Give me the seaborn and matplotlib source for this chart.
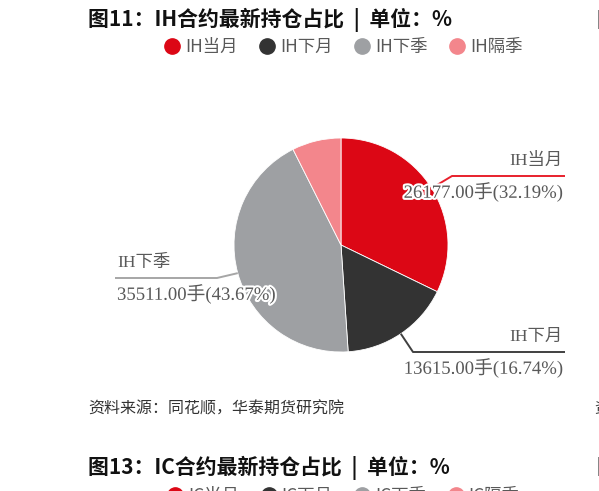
import numpy as np
import seaborn as sns
import matplotlib.pyplot as plt
import matplotlib.patheffects as pe
from matplotlib.lines import Line2D

# data
labels = ['IH当月', 'IH下月', 'IH下季', 'IH隔季']
lots = [26177.00, 13615.00, 35511.00, 6017.00]
pcts = [32.19, 16.74, 43.67, 7.40]
ic_labels = ['IC当月', 'IC下月', 'IC下季', 'IC隔季']
colors = ['#DC0715', '#333333', '#9EA0A3', '#F3868C']

sns.set_theme(style='white')
plt.rcParams['font.family'] = ['Noto Sans CJK SC', 'DejaVu Sans']

W, H = 599, 491
fig = plt.figure(figsize=(W / 100, H / 100), dpi=100)
ax = fig.add_axes([0, 0, 1, 1])

# pie, center/radius in pixel units (y measured from bottom)
cx, cy, r = 341, H - 245, 107
wedges, _ = ax.pie(lots, colors=colors, startangle=90, counterclock=False,
                   center=(cx, cy), radius=r,
                   wedgeprops=dict(edgecolor='white', linewidth=0.6))
ax.set_xlim(0, W)
ax.set_ylim(0, H)
ax.set_aspect('equal')
ax.axis('off')

txt_col = '#595959'
serif = ['Liberation Serif', 'Noto Sans CJK SC']
halo = [pe.withStroke(linewidth=3, foreground='white')]

# leader lines and labels: (wedge index, elbow x, line y, end x, line colour, side)
callouts = [
    (0, 452, 176, 565, '#E8202C', 'right'),
    (1, 413, 352, 565, '#404040', 'right'),
    (2, 217, 278, 115, '#A6A6A6', 'left'),
]
for i, ex, ly, endx, lc, side in callouts:
    w = wedges[i]
    mid = np.deg2rad((w.theta1 + w.theta2) / 2)
    sx, sy = cx + r * np.cos(mid), cy + r * np.sin(mid)
    ax.plot([sx, ex, endx], [sy, H - ly, H - ly], color=lc, lw=1.4,
            solid_capstyle='butt', zorder=3)
    tx = endx - 2 if side == 'right' else endx + 2
    ha = 'right' if side == 'right' else 'left'
    ax.text(tx, H - ly + 15, labels[i], ha=ha, va='center', fontsize=12.5,
            color=txt_col, family=serif, zorder=4)
    ax.text(tx, H - ly - 16, f'{lots[i]:.2f}手({pcts[i]:.2f}%)', ha=ha,
            va='center', fontsize=13.5, color=txt_col, family=serif,
            path_effects=halo, zorder=4)

# titles
ax.text(88, H - 20, '图11：IH合约最新持仓占比  |  单位：%', fontsize=15,
        fontweight='bold', color='#111111', va='center', ha='left')
ax.text(88, H - 468, '图13：IC合约最新持仓占比  |  单位：%', fontsize=15,
        fontweight='bold', color='#111111', va='center', ha='left')
# neighbouring column, clipped at the right edge
ax.text(596, H - 20, '图12', fontsize=15, fontweight='bold', color='#111111',
        va='center', ha='left')
ax.text(596, H - 468, '图14', fontsize=15, fontweight='bold', color='#111111',
        va='center', ha='left')
ax.text(594, H - 409, '资料', fontsize=11, color='#333333', va='center', ha='left')

# legends
handles = [Line2D([], [], marker='o', ls='', markersize=11, color=c) for c in colors]
leg = ax.legend(handles, labels, loc='center', bbox_to_anchor=(343, H - 47),
                bbox_transform=ax.transData, ncol=4, frameon=False, fontsize=12.5,
                handletextpad=0.25, columnspacing=1.2, handlelength=1.0,
                labelcolor=txt_col)
ax.add_artist(leg)
ax.legend(handles, ic_labels, loc='center', bbox_to_anchor=(343, H - 496),
          bbox_transform=ax.transData, ncol=4, frameon=False, fontsize=12.5,
          handletextpad=0.25, columnspacing=1.2, handlelength=1.0,
          labelcolor=txt_col)

# source note
ax.text(88, H - 409, '资料来源：同花顺，华泰期货研究院', fontsize=11.5,
        color='#333333', va='center', ha='left', style='italic')

fig.savefig('out.png', dpi=100)
